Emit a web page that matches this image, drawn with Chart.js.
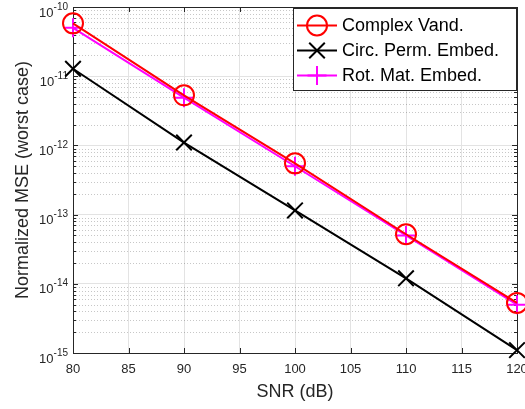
<!DOCTYPE html>
<html><head><meta charset="utf-8">
<script src="https://cdn.jsdelivr.net/npm/chart.js@4/dist/chart.umd.min.js"></script>
<style>html,body{margin:0;padding:0;background:#fff;overflow:hidden}#wrap{width:525px;height:409px}</style>
</head><body><div id="wrap"><canvas id="c" width="525" height="409"></canvas></div>
<script>
// ---- data ----
const snrDb = [80, 90, 100, 110, 120];
const complexVand = [5.8e-11, 5.3e-12, 5.5e-13, 5.2e-14, 5.3e-15];
const circPermEmbed = [1.28e-11, 1.1e-12, 1.15e-13, 1.2e-14, 1.1e-15];
const rotMatEmbed = [5.0e-11, 4.9e-12, 5.0e-13, 5.0e-14, 5.0e-15];
const seriesLabels = ['Complex Vand.', 'Circ. Perm. Embed.', 'Rot. Mat. Embed.'];
const xTicks = [80, 85, 90, 95, 100, 105, 110, 115, 120];
const yExponents = [-15, -14, -13, -12, -11, -10];
const xTitle = 'SNR (dB)';
const yTitle = 'Normalized MSE (worst case)';

const FONT = '"Liberation Sans", Arial, Helvetica, sans-serif';
const AX = '#262626';

function pts(vals){ return snrDb.map((x,i)=>({x:x,y:vals[i]})); }

const series = [
  {label: seriesLabels[0], data: pts(complexVand), color:'#ff0000', style:'circle', r:10},
  {label: seriesLabels[1], data: pts(circPermEmbed), color:'#000000', style:'crossRot', r:11},
  {label: seriesLabels[2], data: pts(rotMatEmbed), color:'#ff00ff', style:'cross', r:9.5}
];

function drawMarker(ctx, style, r, x, y, color){
  ctx.save();
  ctx.strokeStyle = color; ctx.lineWidth = 2;
  ctx.beginPath();
  if (style === 'circle') { ctx.arc(x, y, r, 0, Math.PI*2); }
  else if (style === 'cross') { ctx.moveTo(x-r,y); ctx.lineTo(x+r,y); ctx.moveTo(x,y-r); ctx.lineTo(x,y+r); }
  else { const d = r*Math.SQRT1_2; ctx.moveTo(x-d,y-d); ctx.lineTo(x+d,y+d); ctx.moveTo(x-d,y+d); ctx.lineTo(x+d,y-d); }
  ctx.stroke();
  ctx.restore();
}

const decorPlugin = {
  id: 'decor',
  beforeDatasetsDraw(chart){
    const {ctx, chartArea: a, scales:{x, y}} = chart;
    ctx.save();
    // minor dotted grid
    ctx.strokeStyle = 'rgba(0,0,0,0.22)';
    ctx.lineWidth = 1;
    ctx.setLineDash([1,2]);
    for (let i = 0; i < yExponents.length-1; i++) {
      for (let k = 2; k <= 9; k++) {
        const py = Math.round(y.getPixelForValue(k*Math.pow(10, yExponents[i]))) + 0.5;
        ctx.beginPath(); ctx.moveTo(a.left, py); ctx.lineTo(a.right, py); ctx.stroke();
      }
    }
    ctx.setLineDash([]);
    // box
    ctx.strokeStyle = AX;
    ctx.strokeRect(Math.round(a.left)+0.5, Math.round(a.top)+0.5, Math.round(a.right-a.left), Math.round(a.bottom-a.top));
    // inside ticks
    ctx.beginPath();
    xTicks.forEach(v=>{
      const px = Math.round(x.getPixelForValue(v))+0.5;
      ctx.moveTo(px, a.bottom); ctx.lineTo(px, a.bottom-5);
      ctx.moveTo(px, a.top); ctx.lineTo(px, a.top+5);
    });
    for (let i = 0; i < yExponents.length; i++) {
      const py = Math.round(y.getPixelForValue(Math.pow(10, yExponents[i])))+0.5;
      ctx.moveTo(a.left, py); ctx.lineTo(a.left+5, py);
      ctx.moveTo(a.right, py); ctx.lineTo(a.right-5, py);
      if (i < yExponents.length-1) for (let k = 2; k <= 9; k++) {
        const q = Math.round(y.getPixelForValue(k*Math.pow(10, yExponents[i])))+0.5;
        ctx.moveTo(a.left, q); ctx.lineTo(a.left+3, q);
        ctx.moveTo(a.right, q); ctx.lineTo(a.right-3, q);
      }
    }
    ctx.stroke();
    // y tick labels with superscripts
    ctx.fillStyle = AX;
    ctx.textBaseline = 'alphabetic';
    yExponents.forEach(e=>{
      const py = y.getPixelForValue(Math.pow(10, e));
      const sup = String(e);
      ctx.font = '10px ' + FONT;
      const sw = ctx.measureText(sup).width;
      const endX = a.left - 5;
      ctx.textAlign = 'right';
      ctx.fillText(sup, endX, py + 2.5);
      ctx.font = '13px ' + FONT;
      ctx.fillText('10', endX - sw, py + 9.5);
    });
    ctx.restore();
  },
  afterDatasetsDraw(chart){
    const ctx = chart.ctx;
    ctx.save();
    const bx = 293.5, by = 8.5, bw = 223, bh = 82;
    ctx.fillStyle = '#fff';
    ctx.fillRect(bx, by, bw, bh);
    ctx.strokeStyle = AX; ctx.lineWidth = 1;
    ctx.strokeRect(bx, by, bw, bh);
    ctx.font = '18px ' + FONT;
    ctx.textBaseline = 'middle';
    ctx.textAlign = 'left';
    series.forEach((s, i)=>{
      const ry = 25.5 + i*25;
      ctx.strokeStyle = s.color; ctx.lineWidth = 2;
      ctx.beginPath(); ctx.moveTo(297, ry); ctx.lineTo(337, ry); ctx.stroke();
      drawMarker(ctx, s.style, s.r, 317, ry, s.color);
      ctx.fillStyle = '#000';
      ctx.fillText(s.label, 342, ry + 1);
    });
    ctx.restore();
  }
};

new Chart(document.getElementById('c'), {
  type: 'line',
  data: {
    datasets: series.map(s=>({
      label: s.label, data: s.data,
      borderColor: s.color, borderWidth: 2,
      pointStyle: s.style, pointRadius: s.r, pointHoverRadius: s.r,
      pointBorderColor: s.color, pointBorderWidth: 2,
      pointBackgroundColor: 'rgba(0,0,0,0)',
      fill: false, tension: 0, clip: false
    }))
  },
  options: {
    responsive: false, animation: false, devicePixelRatio: 1,
    events: [],
    layout: {autoPadding: false, padding: {top: 7, right: 8, left: 0, bottom: 0}},
    plugins: {legend: {display: false}, tooltip: {enabled: false}},
    scales: {
      x: {
        type: 'linear', min: 80, max: 120,
        afterBuildTicks(s){ s.ticks = xTicks.map(v=>({value:v})); },
        afterFit(s){ s.height = 56; s.paddingLeft = 0; s.paddingRight = 0; },
        grid: {color: '#e3e3e3', drawTicks: false},
        border: {display: false},
        ticks: {color: AX, font: {family: FONT, size: 13}, padding: 9, maxRotation: 0, autoSkip: false},
        title: {display: true, text: xTitle, color: AX, font: {family: FONT, size: 18}, padding: {top: 0, bottom: 6}}
      },
      y: {
        type: 'logarithmic', min: 1e-15, max: 1e-10,
        afterBuildTicks(s){ s.ticks = yExponents.map(e=>({value: Math.pow(10, e)})); },
        afterFit(s){ s.width = 73; s.paddingTop = 0; s.paddingBottom = 0; },
        grid: {color: '#e3e3e3', drawTicks: false},
        border: {display: false},
        ticks: {display: false},
        title: {display: true, text: yTitle, color: AX, font: {family: FONT, size: 18}, padding: {top: 12, bottom: 0}}
      }
    }
  },
  plugins: [decorPlugin]
});
</script>
</body></html>
